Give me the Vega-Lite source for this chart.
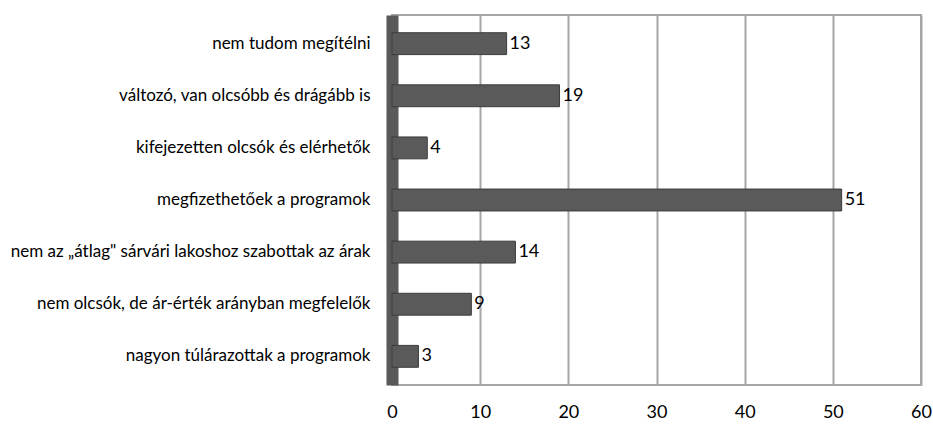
{
  "$schema": "https://vega.github.io/schema/vega-lite/v6.json",
  "width": 529,
  "height": 370,
  "autosize": {"type": "none"},
  "padding": {"left": 392, "top": 15, "right": 12, "bottom": 41},
  "background": "white",
  "config": {
    "view": {"stroke": "#a6a6a6", "strokeWidth": 2},
    "font": "Lato"
  },
  "data": {
    "values": [
      {"cat": "nem tudom megítélni", "v": 13},
      {"cat": "változó, van olcsóbb és drágább is", "v": 19},
      {"cat": "kifejezetten olcsók és elérhetők", "v": 4},
      {"cat": "megfizethetőek a programok", "v": 51},
      {"cat": "nem az „átlag\" sárvári lakoshoz szabottak az árak", "v": 14},
      {"cat": "nem olcsók, de ár-érték arányban megfelelők", "v": 9},
      {"cat": "nagyon túlárazottak a programok", "v": 3}
    ]
  },
  "encoding": {
    "y": {
      "field": "cat",
      "type": "nominal",
      "sort": null,
      "scale": {"paddingInner": 0.58, "paddingOuter": 0.34},
      "axis": {
        "title": null,
        "ticks": false,
        "domainColor": "#595959",
        "domainWidth": 12,
        "labelFont": "Lato",
        "labelFontSize": 17,
        "labelColor": "#000000",
        "labelPadding": 22,
        "labelLimit": 400
      }
    },
    "x": {
      "field": "v",
      "type": "quantitative",
      "scale": {"domain": [0, 60], "nice": false},
      "axis": {
        "title": null,
        "values": [0, 10, 20, 30, 40, 50, 60],
        "ticks": false,
        "domain": false,
        "grid": true,
        "gridColor": "#a6a6a6",
        "gridWidth": 2,
        "labelFont": "Lato",
        "labelFontSize": 18,
        "labelColor": "#000000",
        "labelPadding": 18,
        "labelFlush": false
      }
    }
  },
  "layer": [
    {
      "mark": {"type": "bar", "color": "#5a5a5a", "stroke": "#3c3c3c", "strokeWidth": 1}
    },
    {
      "mark": {"type": "text", "align": "left", "baseline": "middle", "dx": 3, "fontSize": 18, "font": "Lato", "color": "#000000"},
      "encoding": {"text": {"field": "v", "type": "quantitative"}}
    }
  ]
}
